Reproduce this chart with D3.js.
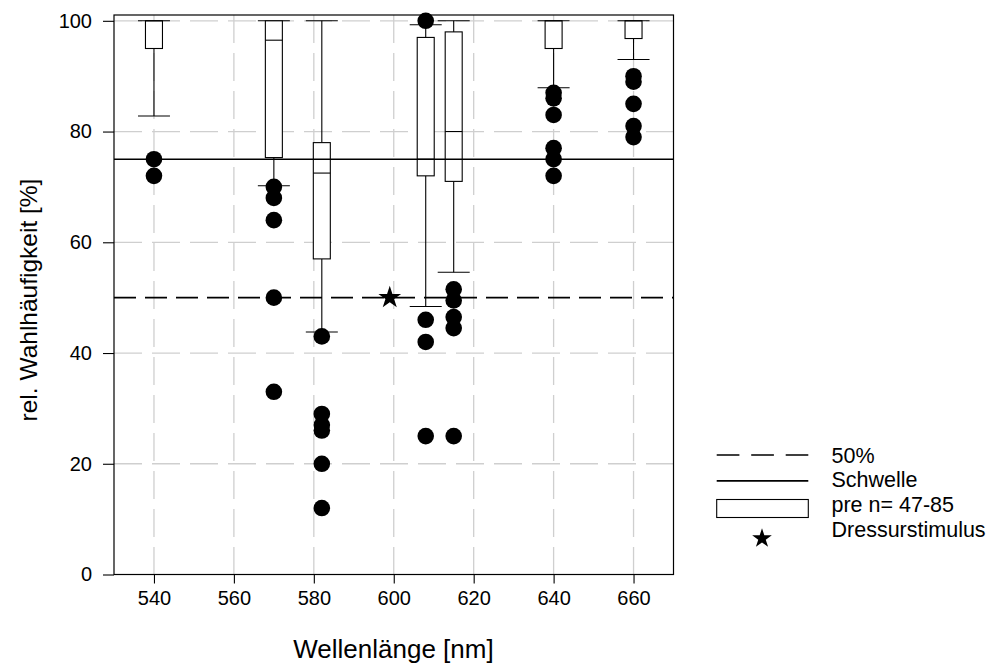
<!DOCTYPE html>
<html>
<head>
<meta charset="utf-8">
<script src="https://cdn.jsdelivr.net/npm/d3@7"></script>
<style>
  html, body { margin: 0; padding: 0; background: #fff; }
  svg text { font-family: "Liberation Sans", Arial, Helvetica, sans-serif; fill: #000; }
</style>
</head>
<body>
<svg id="chart" width="990" height="668"></svg>
<script>
// Wavelengths of the test stimuli (nm)
const wavelengths = [540, 570, 582, 608, 615, 640, 660];
// Box statistics of the pre-training choices (%)
const whiskerLow  = [82.8, 70.2, 43.8, 48.4, 54.6, 87.9, 93.0];
const q1          = [95.0, 75.3, 57.0, 72.0, 71.0, 95.0, 96.8];
const median      = [100, 96.5, 72.5, 75.0, 80.0, 100, 100];
const q3          = [100, 100, 78.0, 97.0, 98.0, 100, 100];
const whiskerHigh = [100, 100, 100, 99.3, 100, 100, 100];
// Individual choice frequencies after training (%)
const points = [
  [75, 72],
  [70, 68, 64, 50, 33],
  [43, 29, 27, 26, 20, 12],
  [100, 46, 42, 25],
  [51.5, 49.5, 46.5, 44.5, 25],
  [87, 86, 83, 77, 75, 72],
  [90, 89, 85, 81, 79]
];
// Reference levels and training stimulus
const chanceLevel = 50;
const thresholdLevel = 75;
const trainingStimulus = [599, 50];
// Axis ticks
const xTicks = [540, 560, 580, 600, 620, 640, 660];
const yTicks = [0, 20, 40, 60, 80, 100];
const legendLabels = ["50%", "Schwelle", "pre n= 47-85", "Dressurstimulus"];

const svg = d3.select("#chart");
const plotLeft = 114, plotRight = 673.5, plotTop = 15, plotBottom = 574.5;

const x = d3.scaleLinear().domain([530, 670]).range([plotLeft, plotRight]);
const y = d3.scaleLinear().domain([0, 101.05]).range([plotBottom, plotTop]);

// grid
const grid = svg.append("g").attr("stroke", "#cfcfcf").attr("stroke-width", 1.3)
  .attr("stroke-dasharray", "28,10");
grid.selectAll("line.vx").data(xTicks).join("line")
  .attr("x1", d => x(d)).attr("x2", d => x(d))
  .attr("y1", plotTop).attr("y2", plotBottom);
grid.selectAll("line.hy").data(yTicks.filter(d => d > 0)).join("line")
  .attr("x1", plotLeft).attr("x2", plotRight)
  .attr("y1", d => y(d)).attr("y2", d => y(d));

// boxes
const boxW = 17, capW = 32;
const boxes = svg.append("g").attr("stroke", "#000").attr("stroke-width", 1.1);
wavelengths.forEach((w, i) => {
  const cx = x(w);
  const g = boxes.append("g");
  // whiskers
  g.append("line").attr("x1", cx).attr("x2", cx)
    .attr("y1", y(whiskerHigh[i])).attr("y2", y(q3[i]));
  g.append("line").attr("x1", cx).attr("x2", cx)
    .attr("y1", y(q1[i])).attr("y2", y(whiskerLow[i]));
  g.append("line").attr("x1", cx - capW / 2).attr("x2", cx + capW / 2)
    .attr("y1", y(whiskerHigh[i])).attr("y2", y(whiskerHigh[i]));
  g.append("line").attr("x1", cx - capW / 2).attr("x2", cx + capW / 2)
    .attr("y1", y(whiskerLow[i])).attr("y2", y(whiskerLow[i]));
  // box
  g.append("rect").attr("x", cx - boxW / 2).attr("width", boxW)
    .attr("y", y(q3[i])).attr("height", y(q1[i]) - y(q3[i]))
    .attr("fill", "#fff");
  g.append("line").attr("x1", cx - boxW / 2).attr("x2", cx + boxW / 2)
    .attr("y1", y(median[i])).attr("y2", y(median[i]));
});

// reference lines
svg.append("line").attr("x1", plotLeft).attr("x2", plotRight)
  .attr("y1", y(thresholdLevel)).attr("y2", y(thresholdLevel))
  .attr("stroke", "#000").attr("stroke-width", 1.6);
svg.append("line").attr("x1", plotLeft).attr("x2", plotRight)
  .attr("y1", y(chanceLevel)).attr("y2", y(chanceLevel))
  .attr("stroke", "#000").attr("stroke-width", 1.8)
  .attr("stroke-dasharray", "22,9");

// individual points
const pts = [];
wavelengths.forEach((w, i) => points[i].forEach(v => pts.push([w, v])));
svg.append("g").selectAll("circle").data(pts).join("circle")
  .attr("cx", d => x(d[0])).attr("cy", d => y(d[1])).attr("r", 8.3)
  .attr("fill", "#000");

// training stimulus
const star = d3.symbol().type(d3.symbolStar).size(160);
svg.append("path").attr("d", star())
  .attr("transform", `translate(${x(trainingStimulus[0])},${y(trainingStimulus[1])})`)
  .attr("fill", "#000");

// frame
svg.append("rect").attr("x", plotLeft).attr("y", plotTop)
  .attr("width", plotRight - plotLeft).attr("height", plotBottom - plotTop)
  .attr("fill", "none").attr("stroke", "#000").attr("stroke-width", 1.2);

// axes
const xAxis = svg.append("g").attr("transform", `translate(0,${plotBottom})`)
  .call(d3.axisBottom(x).tickValues(xTicks).tickSize(9).tickPadding(7).tickFormat(d3.format("d")));
const yAxis = svg.append("g").attr("transform", `translate(${plotLeft},0)`)
  .call(d3.axisLeft(y).tickValues(yTicks).tickSize(11).tickPadding(11).tickFormat(d3.format("d")));
[xAxis, yAxis].forEach(a => {
  a.select(".domain").remove();
  a.selectAll(".tick line").attr("stroke", "#000").attr("stroke-width", 1.1);
  a.selectAll(".tick text").style("font-size", "20px")
    .style("font-family", '"Liberation Sans", Arial, sans-serif').attr("fill", "#000");
});

// axis titles
svg.append("text").attr("x", 393.5).attr("y", 658).attr("text-anchor", "middle")
  .style("font-size", "26px").text("Wellenlänge [nm]");
svg.append("text").attr("transform", "translate(37,300) rotate(-90)")
  .attr("text-anchor", "middle").style("font-size", "24.5px")
  .text("rel. Wahlhäufigkeit [%]");

// legend
const lg = svg.append("g");
const lx0 = 716.7, lx1 = 808.3, tx = 831.5;
const rowBase = [463.3, 487.2, 511.6, 536.5];
lg.append("line").attr("x1", lx0).attr("x2", lx1).attr("y1", 455).attr("y2", 455)
  .attr("stroke", "#000").attr("stroke-width", 1.6).attr("stroke-dasharray", "22.7,11.8");
lg.append("line").attr("x1", lx0).attr("x2", lx1).attr("y1", 480.8).attr("y2", 480.8)
  .attr("stroke", "#000").attr("stroke-width", 1.8);
lg.append("rect").attr("x", lx0).attr("y", 499.5).attr("width", lx1 - lx0).attr("height", 18)
  .attr("fill", "#fff").attr("stroke", "#000").attr("stroke-width", 1.1);
lg.append("path").attr("d", d3.symbol().type(d3.symbolStar).size(120)())
  .attr("transform", "translate(762,538.5)").attr("fill", "#000");
lg.selectAll("text").data(legendLabels).join("text")
  .attr("x", tx).attr("y", (d, i) => rowBase[i])
  .style("font-size", "21.5px").text(d => d);
</script>
</body>
</html>
